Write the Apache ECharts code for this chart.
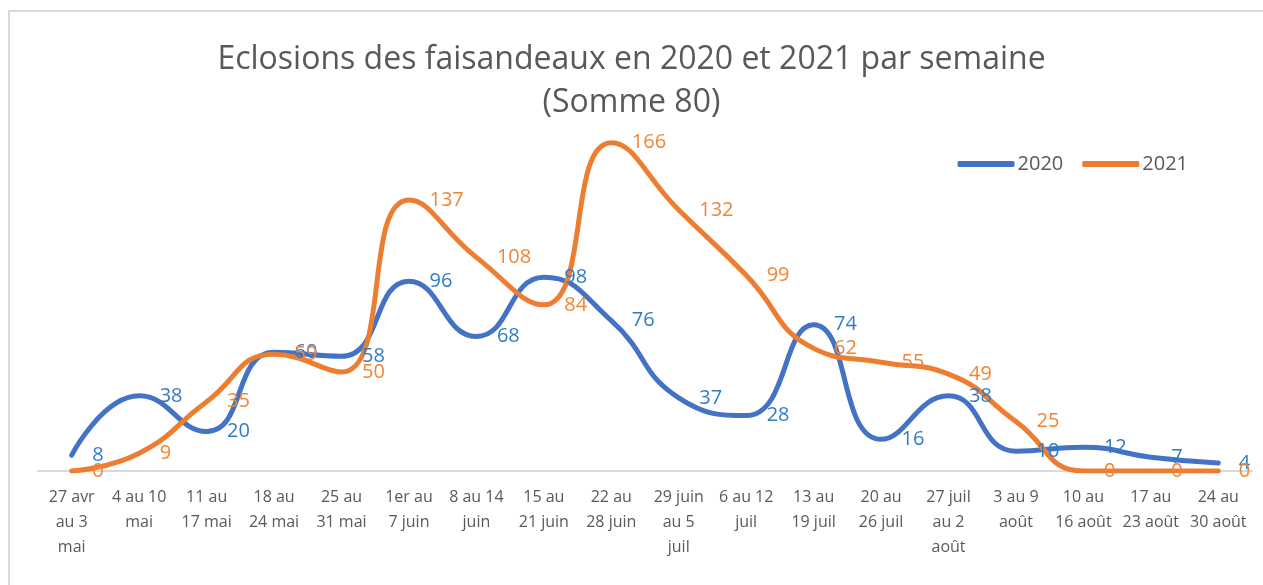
<!DOCTYPE html>
<html>
<head>
<meta charset="utf-8">
<script src="https://cdn.jsdelivr.net/npm/echarts@6/dist/echarts.min.js"></script>
<style>
html,body{margin:0;padding:0;background:#fff;overflow:hidden;}
#frame{position:absolute;left:8px;top:10px;width:1300px;height:620px;border:2px solid #d9d9d9;box-sizing:border-box;}
#chart{position:absolute;left:0;top:0;width:1263px;height:585px;}
</style>
</head>
<body>
<div id="frame"></div>
<div id="chart"></div>
<script>
const categories = [
  "27 avr\nau 3\nmai", "4 au 10\nmai", "11 au\n17 mai", "18 au\n24 mai", "25 au\n31 mai",
  "1er au\n7 juin", "8 au 14\njuin", "15 au\n21 juin", "22 au\n28 juin", "29 juin\nau 5\njuil",
  "6 au 12\njuil", "13 au\n19 juil", "20 au\n26 juil", "27 juil\nau 2\naoût", "3 au 9\naoût",
  "10 au\n16 août", "17 au\n23 août", "24 au\n30 août"
];
const values2020 = [8, 38, 20, 60, 58, 96, 68, 98, 76, 37, 28, 74, 16, 38, 10, 12, 7, 4];
const values2021 = [0, 9, 35, 59, 50, 137, 108, 84, 166, 132, 99, 62, 55, 49, 25, 0, 0, 0];
const seriesNames = ["2020", "2021"];
const titleText = "Eclosions des faisandeaux en 2020 et 2021 par semaine\n(Somme 80)";

const chart = echarts.init(document.getElementById('chart'), null, {renderer: 'canvas'});
const font = "Open Sans";
function lineSeries(name, data, color, labelColor) {
  return {
    name: name, type: 'line', data: data, smooth: 0.5,
    symbol: 'circle', symbolSize: 1, showSymbol: true,
    lineStyle: {color: color, width: 5, cap: 'round', join: 'round'},
    itemStyle: {color: color},
    label: {show: true, position: 'right', distance: 20, color: labelColor,
            fontFamily: font, fontSize: 20},
    labelLayout: {hideOverlap: false},
    emphasis: {disabled: true}
  };
}
chart.setOption({
  animation: false,
  backgroundColor: 'transparent',
  title: {
    text: titleText, left: 'center', top: 33,
    textStyle: {fontFamily: font, fontSize: 32, fontWeight: 'normal', color: '#595959', lineHeight: 43}
  },
  legend: {
    data: seriesNames, right: 70, top: 149, itemWidth: 57, itemHeight: 6, itemGap: 19,
    icon: 'roundRect',
    textStyle: {fontFamily: font, fontSize: 20, color: '#595959', padding: [0,0,0,-2]}
  },
  grid: {left: 38, right: 11, top: 115, bottom: 114, containLabel: false},
  xAxis: {
    type: 'category', data: categories, boundaryGap: true,
    axisLine: {lineStyle: {color: '#d9d9d9', width: 2}},
    axisTick: {show: false},
    axisLabel: {interval: 0, margin: 14, color: '#595959', fontFamily: font, fontSize: 16, lineHeight: 25}
  },
  yAxis: {
    type: 'value', min: 0, max: 180, interval: 20, show: false,
    splitLine: {show: false}
  },
  series: [
    lineSeries(seriesNames[0], values2020, '#4472C4', '#2E7DC6'),
    lineSeries(seriesNames[1], values2021, '#ED7D31', '#F08536')
  ]
});
</script>
</body>
</html>
